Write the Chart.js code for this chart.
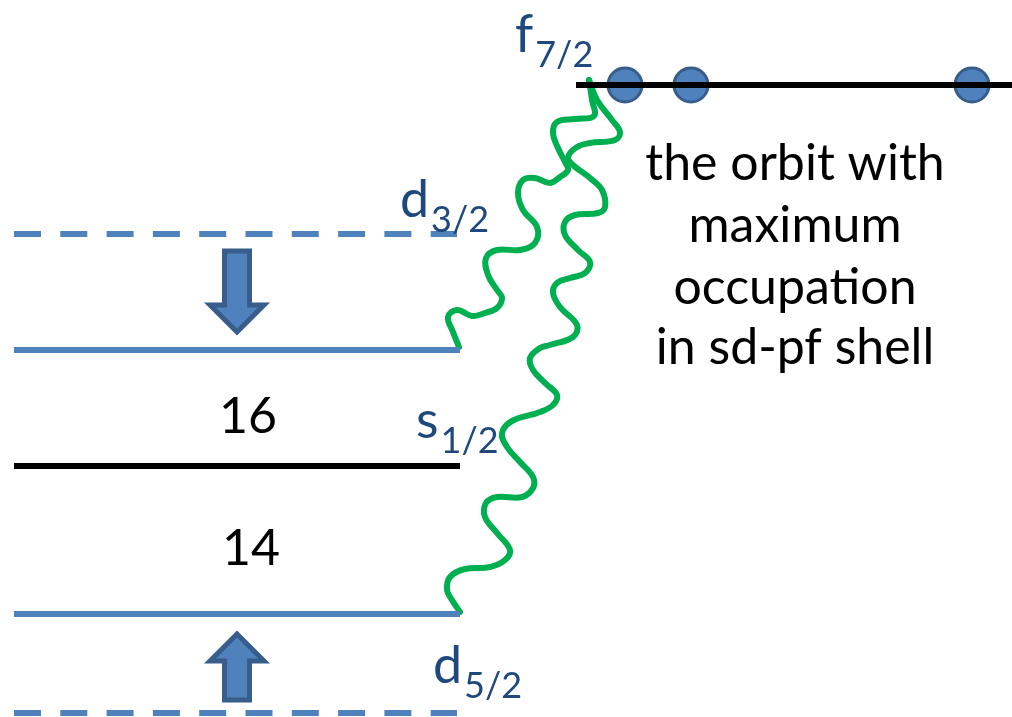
<!DOCTYPE html>
<html>
<head>
<meta charset="utf-8">
<script src="https://cdn.jsdelivr.net/npm/chart.js@4.4.0/dist/chart.umd.min.js"></script>
<style>
  html, body { margin: 0; padding: 0; background: #fff; }
  #wrap { width: 1012px; height: 717px; position: relative; }
</style>
</head>
<body>
<div id="wrap"><canvas id="levels"></canvas></div>
<script>
// single-particle levels (diagram units: x across, y down)
const levelNames = ['f7/2', 'd3/2 free', 'd3/2', 's1/2', 'd5/2', 'd5/2 free'];
const levelKind = ['black', 'dashed', 'blue', 'black', 'blue', 'dashed'];
const levelY = [85, 234, 350, 466, 614, 713];
const levelXFrom = [576, 14, 14, 14, 14, 14];
const levelXTo = [1012, 457, 460, 460, 460, 457];

// particles sitting in f7/2
const occupiedX = [625, 691, 972];
const occupiedY = [85, 85, 85];

// wavy couplings from f7/2 down to d3/2 and d5/2
const waveToD32 = [
    [589, 80], [592, 100], [594, 116], [575, 119], [557, 122], [553, 133], [558, 148],
    [565, 162], [568, 170], [560, 177], [550, 183], [535, 178], [523, 180], [518, 193],
    [523, 210], [537, 227], [535, 243], [520, 250], [497, 250], [486, 258], [488, 275],
    [497, 290], [502, 298], [497, 308], [485, 313], [472, 316], [457, 310], [448, 317],
    [453, 332], [459, 347]
];
const waveToD52 = [
    [589, 80], [597, 100], [612, 120], [620, 132], [615, 140], [590, 143], [577, 147],
    [568, 157], [573, 165], [590, 178], [602, 190], [605, 207], [598, 213], [575, 215],
    [565, 222], [565, 235], [578, 250], [590, 262], [585, 273], [570, 278], [557, 283],
    [553, 293], [560, 307], [577, 325], [573, 337], [550, 345], [540, 348], [530, 358],
    [533, 370], [545, 383], [557, 395], [553, 405], [540, 412], [512, 421], [502, 433],
    [507, 447], [520, 462], [533, 477], [533, 488], [522, 497], [497, 497], [486, 503],
    [485, 517], [497, 533], [510, 550], [505, 560], [490, 567], [465, 569], [450, 577],
    [447, 590], [452, 600], [460, 612]
];

// level shift arrows
const arrowX = [237, 237];
const arrowTail = [248, 703];
const arrowTip = [337, 629];

// orbit labels
const orbitLetter = ['f', 'd', 's', 'd'];
const orbitSub = ['7/2', '3/2', '1/2', '5/2'];
const orbitX = [515, 400, 416, 433];
const orbitY = [52, 217, 438, 683];

// shell closures
const shellNumbers = ['16', '14'];
const shellX = [248, 251];
const shellY = [433, 565];

// note
const noteLines = ['the orbit with', 'maximum', 'occupation', 'in sd-pf shell'];
const noteX = 795;
const noteY = [180, 242, 304, 364];

const FONT = 'Lato, "Open Sans", sans-serif';
const BLUE = '#4F81BD';
const DARKBLUE = '#385D8A';
const LABEL = '#1F497D';
const GREEN = '#00B050';

const levelStyle = {
    black: { borderColor: '#000000', borderWidth: 6, borderDash: [] },
    blue: { borderColor: BLUE, borderWidth: 6, borderDash: [] },
    dashed: { borderColor: BLUE, borderWidth: 6, borderDash: [27, 19.3] }
};

const datasets = [];

levelNames.forEach((name, i) => {
    datasets.push(Object.assign({
        label: name,
        data: [{ x: levelXFrom[i], y: levelY[i] }, { x: levelXTo[i], y: levelY[i] }],
        showLine: true,
        pointRadius: 0,
        borderCapStyle: 'butt',
        clip: false
    }, levelStyle[levelKind[i]]));
});

[waveToD32, waveToD52].forEach((wave, i) => {
    datasets.push({
        label: 'wave ' + i,
        data: wave.map(p => ({ x: p[0], y: p[1] })),
        showLine: true,
        pointRadius: 0,
        borderColor: GREEN,
        borderWidth: 6,
        tension: 0.4,
        borderCapStyle: 'round',
        borderJoinStyle: 'round',
        clip: false
    });
});

datasets.push({
    label: 'occupied',
    data: occupiedX.map((x, i) => ({ x: x, y: occupiedY[i] })),
    showLine: false,
    pointRadius: 17,
    pointBackgroundColor: BLUE,
    pointBorderColor: DARKBLUE,
    pointBorderWidth: 3,
    clip: false
});

// arrows and text, placed through the chart scales
const annotations = {
    id: 'annotations',
    afterDatasetsDraw(chart) {
        const ctx = chart.ctx;
        const sx = chart.scales.x;
        const sy = chart.scales.y;
        ctx.save();

        // shift arrows
        arrowX.forEach((ax, i) => {
            const x = sx.getPixelForValue(ax);
            const tail = sy.getPixelForValue(arrowTail[i]);
            const tip = sy.getPixelForValue(arrowTip[i]);
            const dir = Math.sign(tip - tail);
            const t0 = tail + dir * 3;
            const t1 = tip - dir * 5;
            const base = t1 - dir * 27;
            const sw = 12.5, hw = 27;
            ctx.beginPath();
            ctx.moveTo(x - sw, t0);
            ctx.lineTo(x - sw, base);
            ctx.lineTo(x - hw, base);
            ctx.lineTo(x, t1);
            ctx.lineTo(x + hw, base);
            ctx.lineTo(x + sw, base);
            ctx.lineTo(x + sw, t0);
            ctx.closePath();
            ctx.fillStyle = BLUE;
            ctx.fill();
            ctx.lineWidth = 5;
            ctx.lineJoin = 'miter';
            ctx.strokeStyle = DARKBLUE;
            ctx.stroke();
        });

        // orbit labels with subscripts
        ctx.fillStyle = LABEL;
        ctx.textAlign = 'left';
        ctx.textBaseline = 'alphabetic';
        orbitLetter.forEach((letter, i) => {
            const x = sx.getPixelForValue(orbitX[i]);
            const y = sy.getPixelForValue(orbitY[i]);
            ctx.font = '52px ' + FONT;
            ctx.fillText(letter, x, y);
            const w = ctx.measureText(letter).width;
            ctx.font = '36px ' + FONT;
            ctx.fillText(orbitSub[i], x + w + 2, y + 15);
        });

        // shell closure numbers
        ctx.fillStyle = '#000000';
        ctx.textAlign = 'center';
        ctx.font = '50px ' + FONT;
        shellNumbers.forEach((n, i) => {
            ctx.fillText(n, sx.getPixelForValue(shellX[i]), sy.getPixelForValue(shellY[i]));
        });

        // note text
        noteLines.forEach((line, i) => {
            ctx.fillText(line, sx.getPixelForValue(noteX), sy.getPixelForValue(noteY[i]));
        });

        ctx.restore();
    }
};

new Chart(document.getElementById('levels'), {
    type: 'scatter',
    data: { datasets: datasets },
    options: {
        responsive: true,
        maintainAspectRatio: false,
        animation: false,
        layout: { padding: 0, autoPadding: false },
        scales: {
            x: { type: 'linear', min: 0, max: 1012, display: false },
            y: { type: 'linear', min: 0, max: 717, reverse: true, display: false }
        },
        plugins: {
            legend: { display: false },
            tooltip: { enabled: false }
        }
    },
    plugins: [annotations]
});
</script>
</body>
</html>
